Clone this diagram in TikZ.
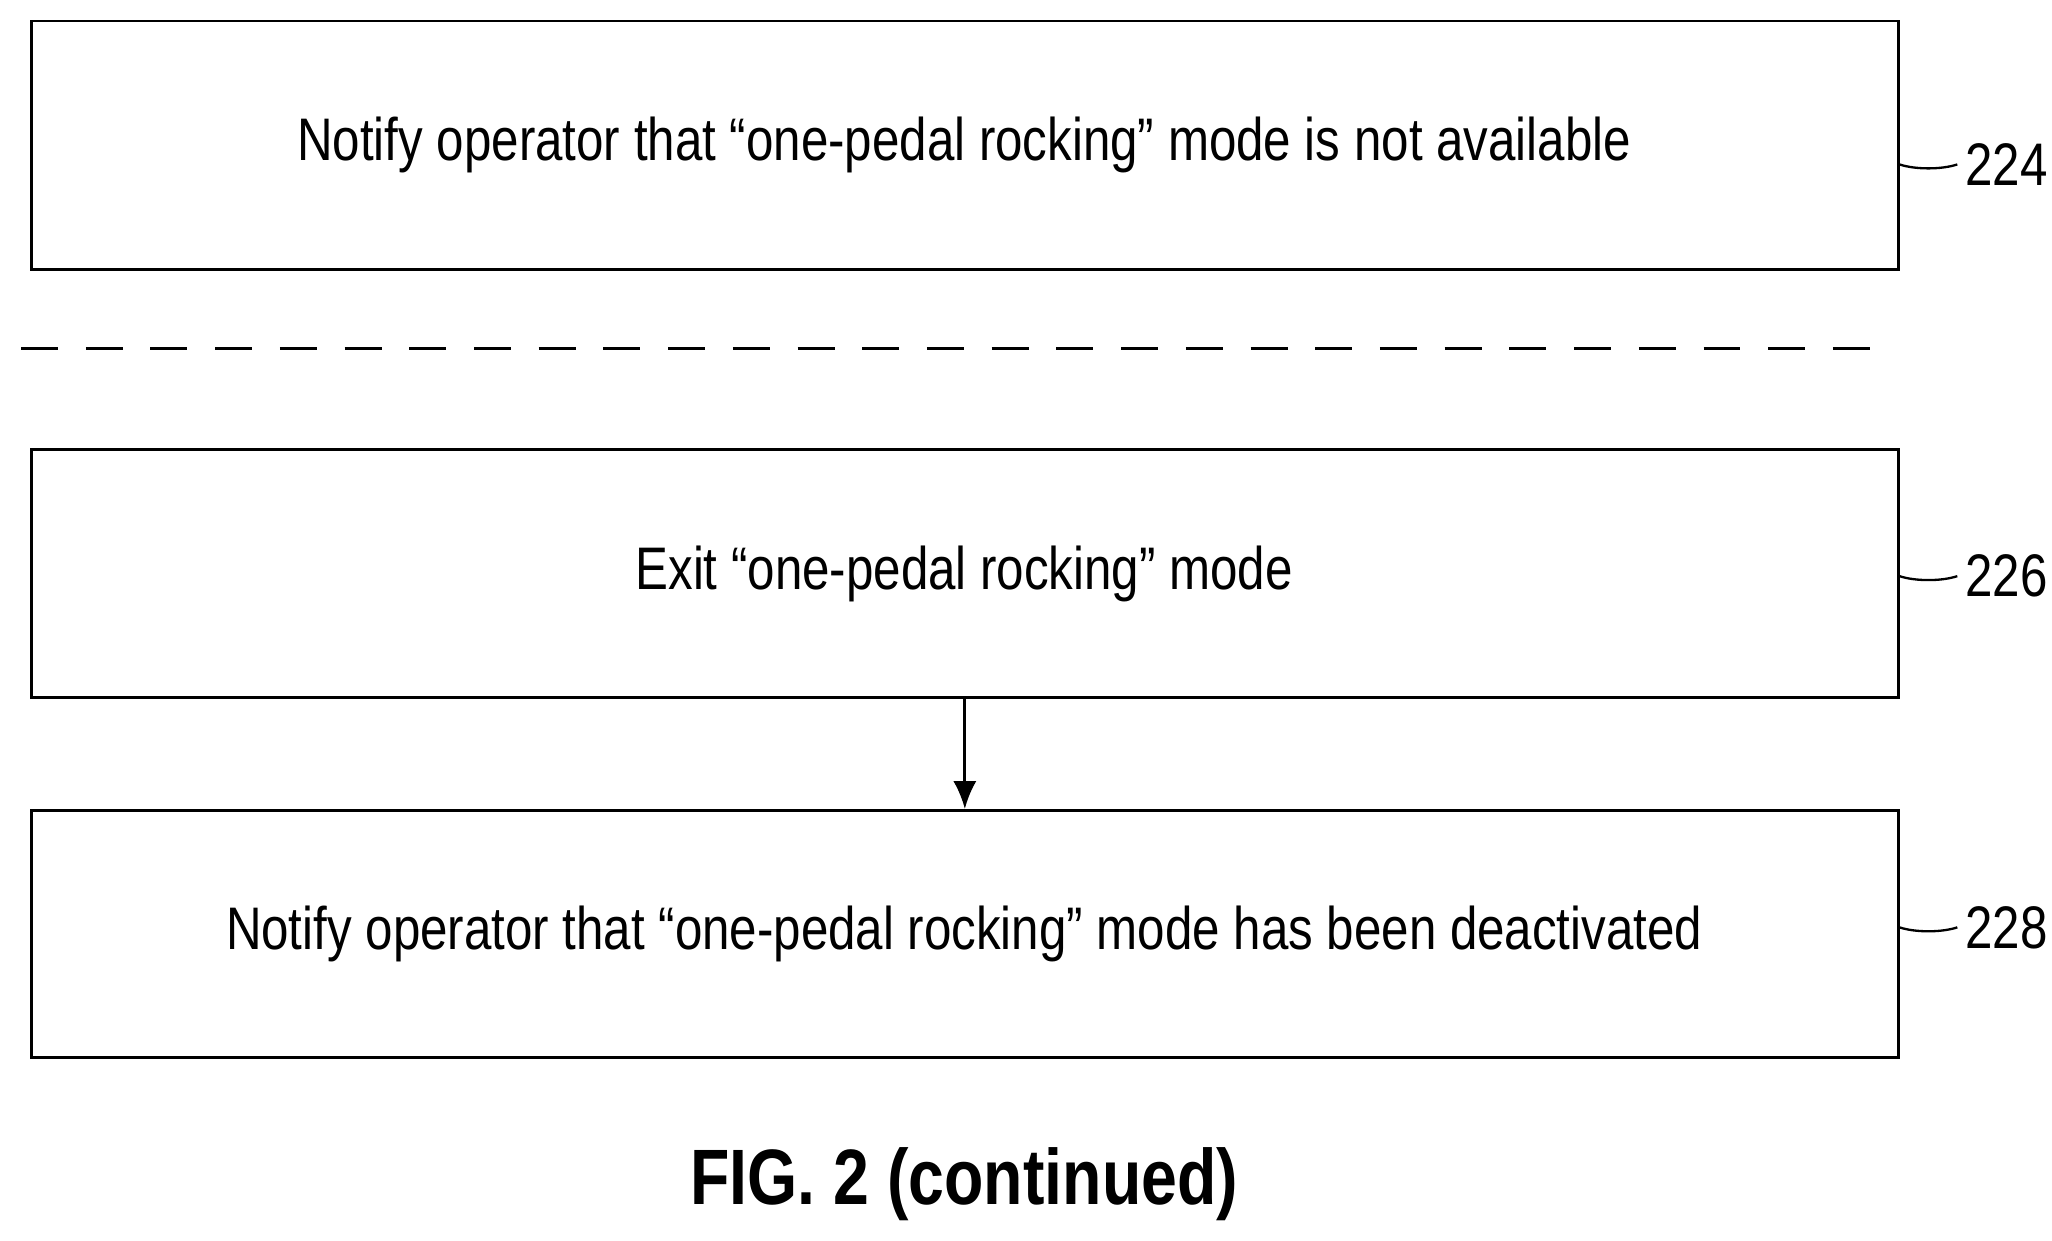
\documentclass[tikz,border=0pt]{standalone}
\usepackage{fontspec}
\usetikzlibrary{arrows.meta}
\setmainfont{Liberation Sans}[FakeStretch=0.82]
\begin{document}
\begin{tikzpicture}[x=0.02cm,y=-0.02cm,
  box/.style={draw,line width=1.2pt,inner sep=0pt},
  txt/.style={font=\fontsize{26}{30}\selectfont},
  lbl/.style={font=\fontsize{26}{30}\selectfont,anchor=west},
  lead/.style={line width=1pt}]
\useasboundingbox (0,0) rectangle (1560,943);
\node[box,minimum width=1419*0.02cm,minimum height=189*0.02cm] (b1) at (733.5,110.5) {};
\node[txt] (t1) at (733,110) {Notify operator that “one-pedal rocking” mode is not available};
\node[box,minimum width=1419*0.02cm,minimum height=188*0.02cm] (b2) at (733.5,436) {};
\node[txt] (t2) at (733,436) {Exit “one-pedal rocking” mode};
\node[box,minimum width=1419*0.02cm,minimum height=188*0.02cm] (b3) at (733.5,710) {};
\node[txt] (t3) at (733,710) {Notify operator that “one-pedal rocking” mode has been deactivated};
\coordinate (d1) at (16,265); \coordinate (d2) at (1437,265);
\draw[line width=1.2pt,dash pattern=on 16pt off 12pt] (d1) -- (d2);
\draw[line width=1.2pt,-{Latex[length=12pt,width=10pt]}] (b2.south) -- (b3.north);
\node[lbl] (l1) at (1488,125) {224};
\node[lbl] (l2) at (1488,438) {226};
\node[lbl] (l3) at (1488,705) {228};
\draw[lead] (b1.east |- l1) .. controls +(12,4) and +(-12,4) .. (l1.west);
\draw[lead] (b2.east |- l2) .. controls +(12,4) and +(-12,4) .. (l2.west);
\draw[lead] (b3.east |- l3) .. controls +(12,4) and +(-12,4) .. (l3.west);
\node[font=\fontsize{34}{40}\selectfont\bfseries] (fig) at (733,900) {FIG. 2 (continued)};
\end{tikzpicture}
\end{document}
